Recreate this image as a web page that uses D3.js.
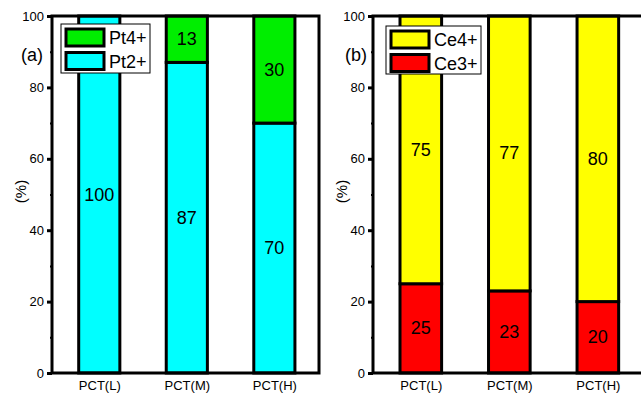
<!DOCTYPE html>
<html><head><meta charset="utf-8">
<script src="https://cdn.jsdelivr.net/npm/d3@7/dist/d3.min.js"></script>
<style>body{margin:0;background:#fff}svg{display:block}text{font-family:Arial,"Liberation Sans",sans-serif;fill:#000}</style>
</head><body><svg id="c" width="641" height="394"></svg>
<script>
const categories = ["PCT(L)", "PCT(M)", "PCT(H)"];
const pt2 = [100, 87, 70];
const pt4 = [0, 13, 30];
const ce3 = [25, 23, 20];
const ce4 = [75, 77, 80];
const yTicks = [0, 20, 40, 60, 80, 100];
const yMinor = [10, 30, 50, 70, 90];

const svg = d3.select("#c");
const panels = [
  {left: 52, width: 267, tag: "(a)", series: [{name:"Pt2+", vals: pt2, color:"#00ffff"}, {name:"Pt4+", vals: pt4, color:"#00ee00"}],
   legend: {x: 61, y: 24, w: 89, h: 49}, tagX: 21},
  {left: 373, width: 270, tag: "(b)", series: [{name:"Ce3+", vals: ce3, color:"#ff0000"}, {name:"Ce4+", vals: ce4, color:"#ffff00"}],
   legend: {x: 386, y: 26, w: 95, h: 48}, tagX: 345}
];
const plotTop = 16, plotBottom = 373;

panels.forEach(p => {
  const g = svg.append("g");
  const x = d3.scaleLinear().domain([0.46, 3.51]).range([p.left, p.left + p.width]);
  const y = d3.scaleLinear().domain([0, 100]).range([plotBottom, plotTop]);
  const bw = (x(2) - x(1)) * 0.47;

  categories.forEach((c, i) => {
    let base = 0;
    p.series.forEach(s => {
      const v = s.vals[i];
      if (v > 0) {
        g.append("rect").attr("x", x(i + 1) - bw / 2).attr("width", bw)
          .attr("y", y(base + v)).attr("height", y(base) - y(base + v))
          .attr("fill", s.color).attr("stroke", "#000").attr("stroke-width", 3);
        g.append("text").attr("x", x(i + 1)).attr("y", (y(base) + y(base + v)) / 2)
          .attr("text-anchor", "middle").attr("dominant-baseline", "central")
          .style("font-size", "18px").text(v);
      }
      base += v;
    });
  });

  g.append("rect").attr("x", p.left).attr("y", plotTop).attr("width", p.width).attr("height", plotBottom - plotTop)
    .attr("fill", "none").attr("stroke", "#000").attr("stroke-width", 3);

  const ya = g.append("g").attr("transform", `translate(${p.left},0)`)
    .call(d3.axisLeft(y).tickValues(yTicks).tickSize(5).tickPadding(3));
  ya.select(".domain").remove();
  ya.selectAll("line").attr("stroke-width", 3);
  ya.selectAll("text").style("font-size", "13px").style("font-family", "Arial, 'Liberation Sans', sans-serif");
  const ym = g.append("g").attr("transform", `translate(${p.left},0)`)
    .call(d3.axisLeft(y).tickValues(yMinor).tickSize(2).tickFormat(""));
  ym.select(".domain").remove();
  ym.selectAll("line").attr("stroke-width", 2);

  const xa = g.append("g").attr("transform", `translate(0,${plotBottom})`)
    .call(d3.axisBottom(x).tickValues([1, 2, 3]).tickSize(0).tickPadding(8).tickFormat((d) => categories[d - 1]));
  xa.select(".domain").remove();
  xa.selectAll("text").style("font-size", "13px").style("font-family", "Arial, 'Liberation Sans', sans-serif");

  g.append("text").attr("transform", `translate(${p.left - 32},${(plotTop + plotBottom) / 2 - 3}) rotate(-90)`)
    .attr("text-anchor", "middle").attr("dominant-baseline", "central").style("font-size", "15px").text("(%)");

  g.append("text").attr("x", p.tagX).attr("y", 55).attr("dominant-baseline", "central")
    .style("font-size", "18px").text(p.tag);

  const L = p.legend;
  g.append("rect").attr("x", L.x).attr("y", L.y).attr("width", L.w).attr("height", L.h)
    .attr("fill", "#fff").attr("stroke", "#000").attr("stroke-width", 1);
  const legItems = p.series.slice().reverse();
  legItems.forEach((s, k) => {
    const sy = L.y + 4 + k * 23.5;
    g.append("rect").attr("x", L.x + 5).attr("y", sy + 1).attr("width", 38).attr("height", 17)
      .attr("fill", s.color).attr("stroke", "#000").attr("stroke-width", 3);
    g.append("text").attr("x", L.x + 48).attr("y", sy + 10).attr("dominant-baseline", "central")
      .style("font-size", "18px").text(s.name);
  });
});
</script></body></html>
